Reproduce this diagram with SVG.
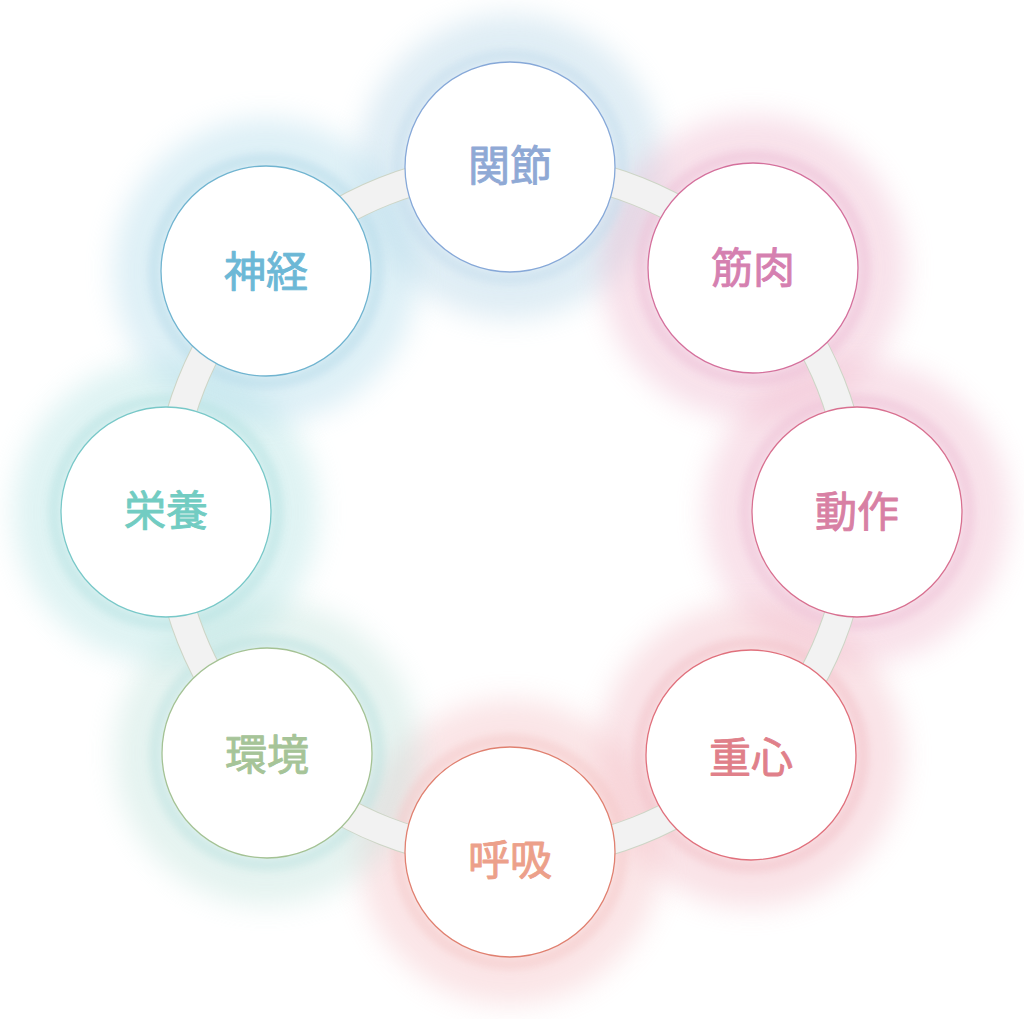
<svg xmlns="http://www.w3.org/2000/svg" width="1024" height="1019" viewBox="0 0 1024 1019">
<defs>
<filter id="glow" x="-50%" y="-50%" width="200%" height="200%">
<feGaussianBlur stdDeviation="14"/>
</filter>
<filter id="glow2" x="-50%" y="-50%" width="200%" height="200%">
<feGaussianBlur stdDeviation="4"/>
</filter>
</defs>
<style>
.halo{fill:none;stroke-width:48;opacity:0.42;filter:url(#glow)}
.halo2{fill:none;stroke-width:14;opacity:0.5;filter:url(#glow2)}
.disc{fill:#ffffff;stroke-width:1.3}
.lbl{font-family:"Noto Sans CJK JP","Noto Sans CJK SC",sans-serif;font-size:42px;font-weight:400;text-anchor:middle;stroke-width:0.9;stroke-linejoin:round}
</style>
<rect width="1024" height="1019" fill="#ffffff"/>
<g id="halos">
<circle class="halo" cx="510" cy="167" r="128" stroke="#b2d4e6"/>
<circle class="halo" cx="753" cy="268" r="128" stroke="#eeb6cc"/>
<circle class="halo" cx="857" cy="512" r="128" stroke="#f0b8cc"/>
<circle class="halo" cx="751" cy="755" r="128" stroke="#f2bac4"/>
<circle class="halo" cx="510" cy="852" r="128" stroke="#f4c0c4"/>
<circle class="halo" cx="267" cy="753" r="128" stroke="#bfe2da"/>
<circle class="halo" cx="166" cy="512" r="128" stroke="#b0e2e2"/>
<circle class="halo" cx="266" cy="271" r="128" stroke="#afdaea"/>
<circle class="halo2" cx="510" cy="167" r="111" stroke="#bcd8ea"/>
<circle class="halo2" cx="753" cy="268" r="111" stroke="#eab6d0"/>
<circle class="halo2" cx="857" cy="512" r="111" stroke="#ebb8d0"/>
<circle class="halo2" cx="751" cy="755" r="111" stroke="#f0b8c0"/>
<circle class="halo2" cx="510" cy="852" r="111" stroke="#f3c0c0"/>
<circle class="halo2" cx="267" cy="753" r="111" stroke="#b4dedc"/>
<circle class="halo2" cx="166" cy="512" r="111" stroke="#acdede"/>
<circle class="halo2" cx="266" cy="271" r="111" stroke="#acd6e6"/>
</g>
<g id="connectors">
<circle cx="511" cy="511" r="344" fill="none" stroke="#cdd5c6" stroke-width="30"/>
<circle cx="511" cy="511" r="344" fill="none" stroke="#f2f2f2" stroke-width="28"/>
</g>
<g id="node-kansetsu">
<circle class="disc" cx="510" cy="167" r="105" stroke="#86a8d8"/>
<text class="lbl" x="510" y="181" fill="#8fa9d5" stroke="#8fa9d5">関節</text>
</g>
<g id="node-kinniku">
<circle class="disc" cx="753" cy="268" r="105" stroke="#d4709c"/>
<text class="lbl" x="753" y="283" fill="#d580b0" stroke="#d580b0">筋肉</text>
</g>
<g id="node-dousa">
<circle class="disc" cx="857" cy="512" r="105" stroke="#d87090"/>
<text class="lbl" x="857" y="527" fill="#d880a4" stroke="#d880a4">動作</text>
</g>
<g id="node-juushin">
<circle class="disc" cx="751" cy="755" r="105" stroke="#e0707c"/>
<text class="lbl" x="751" y="773" fill="#e0808a" stroke="#e0808a">重心</text>
</g>
<g id="node-kokyuu">
<circle class="disc" cx="510" cy="852" r="105" stroke="#e08070"/>
<text class="lbl" x="510" y="875" fill="#eca08a" stroke="#eca08a">呼吸</text>
</g>
<g id="node-kankyou">
<circle class="disc" cx="267" cy="753" r="105" stroke="#a4c294"/>
<text class="lbl" x="267" y="770" fill="#a6c498" stroke="#a6c498">環境</text>
</g>
<g id="node-eiyou">
<circle class="disc" cx="166" cy="512" r="105" stroke="#78c8c8"/>
<text class="lbl" x="166" y="526" fill="#72ccc2" stroke="#72ccc2">栄養</text>
</g>
<g id="node-shinkei">
<circle class="disc" cx="266" cy="271" r="105" stroke="#70b4d0"/>
<text class="lbl" x="266" y="287" fill="#6cb8d6" stroke="#6cb8d6">神経</text>
</g>
</svg>
